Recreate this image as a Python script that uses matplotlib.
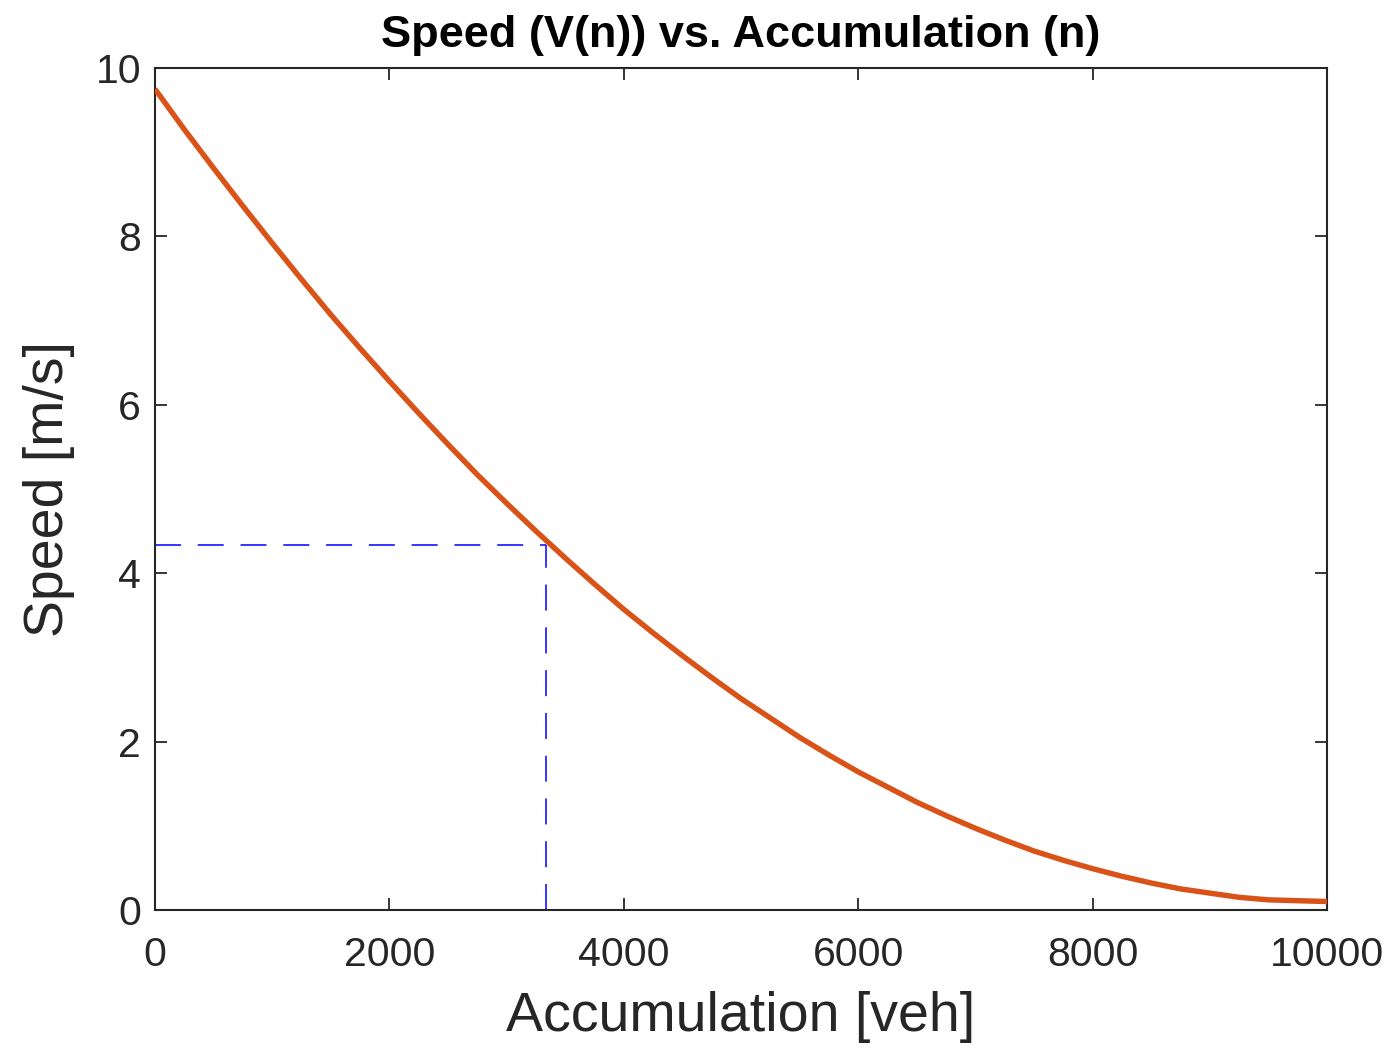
import numpy as np
import matplotlib.pyplot as plt

plt.rcParams['font.family'] = ['Liberation Sans', 'DejaVu Sans']

# speed curve V(n), sampled every 250 veh
accumulation = [0, 250, 500, 750, 1000, 1250, 1500, 1750, 2000, 2250, 2500,
                2750, 3000, 3250, 3500, 3750, 4000, 4250, 4500, 4750, 5000,
                5250, 5500, 5750, 6000, 6250, 6500, 6750, 7000, 7250, 7500,
                7750, 8000, 8250, 8500, 8750, 9000, 9250, 9500, 9750, 10000]
speed = [9.75, 9.27, 8.81, 8.36, 7.92, 7.49, 7.07, 6.67, 6.28, 5.90, 5.53,
         5.17, 4.83, 4.50, 4.18, 3.87, 3.57, 3.29, 3.02, 2.76, 2.51,
         2.28, 2.05, 1.84, 1.64, 1.46, 1.28, 1.12, 0.97, 0.83, 0.70,
         0.59, 0.49, 0.40, 0.32, 0.25, 0.20, 0.15, 0.12, 0.11, 0.10]

# operating point
n_op = 3333
v_op = 4.33

xticks = [0, 2000, 4000, 6000, 8000, 10000]
yticks = [0, 2, 4, 6, 8, 10]

fig = plt.figure(figsize=(13.89, 10.51), dpi=100)
ax = fig.add_axes([0.1116, 0.1342, 0.8438, 0.8011])

ax.plot(accumulation, speed, color='#D95319', linewidth=3.9,
        solid_joinstyle='round', solid_capstyle='butt', zorder=3)
ax.plot([0, n_op], [v_op, v_op], color='blue', linewidth=1.1,
        dashes=(17, 11), zorder=2)
ax.plot([n_op, n_op], [0, v_op], color='blue', linewidth=1.1,
        dashes=(17, 11), zorder=2)

ax.set_xlim(0, 10000)
ax.set_ylim(0, 10)
ax.set_xticks(xticks)
ax.set_yticks(yticks)
ax.set_xticklabels([str(t) for t in xticks])
ax.set_yticklabels([str(t) for t in yticks])

ax.tick_params(direction='in', length=8.6, width=1.3, colors='#262626',
               labelsize=29.5, top=True, right=True)
ax.tick_params(axis='x', pad=19)
ax.tick_params(axis='y', pad=10)
for s in ax.spines.values():
    s.set_color('#262626')
    s.set_linewidth(1.5)

ax.set_xlabel('Accumulation [veh]', fontsize=40, color='#262626', labelpad=12)
ax.set_ylabel('Speed [m/s]', fontsize=40, color='#262626', labelpad=15)
ax.set_title('Speed (V(n)) vs. Accumulation (n)', fontsize=32.5,
             fontweight='bold', pad=15)

fig.savefig('out.png', dpi=100)
